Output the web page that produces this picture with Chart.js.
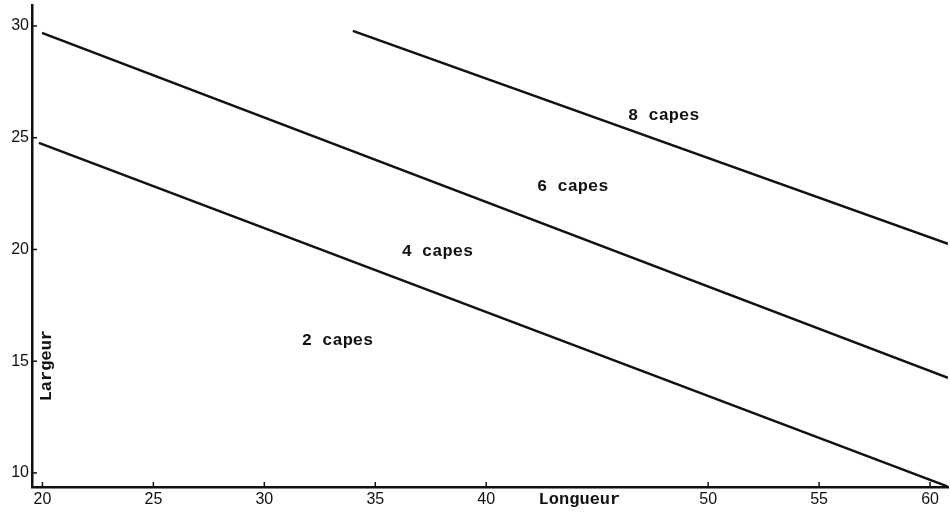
<!DOCTYPE html>
<html>
<head>
<meta charset="utf-8">
<script src="https://cdn.jsdelivr.net/npm/chart.js@4"></script>
<style>
  html, body { margin: 0; padding: 0; background: #fff; }
  #wrap { width: 950px; height: 516px; }
</style>
</head>
<body>
<div id="wrap"><canvas id="capesChart"></canvas></div>
<script>
// limites entre le nombre de capes (longueur, largeur)
const limite2a4 = [{ x: 19.84, y: 24.77 }, { x: 60.78, y: 9.4 }];
const limite4a6 = [{ x: 19.98, y: 29.69 }, { x: 60.81, y: 14.25 }];
const limite6a8 = [{ x: 33.99, y: 29.78 }, { x: 60.81, y: 20.25 }];

const zoneLabels = ["2 capes", "4 capes", "6 capes", "8 capes"];
const zoneX = [33.3, 37.8, 43.9, 48.0];
const zoneY = [15.9, 19.9, 22.8, 26.0];

const xTicks = [20, 25, 30, 35, 40, 45, 50, 55, 60];
const xTickLabels = ["20", "25", "30", "35", "40", "", "50", "55", "60"];
const yTicks = [10, 15, 20, 25, 30];

const labelFont = "bold 17px 'Liberation Mono'";

// petits traits de graduation vers l'intérieur + textes des zones et des axes
const annotations = {
    id: "annotations",
    afterDraw(chart) {
        const ctx = chart.ctx;
        const xs = chart.scales.x;
        const ys = chart.scales.y;
        const area = chart.chartArea;
        ctx.save();
        ctx.strokeStyle = "#111";
        ctx.lineWidth = 1.5;
        xTicks.forEach(function (v, i) {
            if (!xTickLabels[i]) return;
            const px = xs.getPixelForValue(v);
            ctx.beginPath();
            ctx.moveTo(px, area.bottom);
            ctx.lineTo(px, area.bottom - 5);
            ctx.stroke();
        });
        yTicks.forEach(function (v) {
            const py = ys.getPixelForValue(v);
            ctx.beginPath();
            ctx.moveTo(area.left, py);
            ctx.lineTo(area.left + 5, py);
            ctx.stroke();
        });

        ctx.fillStyle = "#111";
        ctx.font = labelFont;
        ctx.textAlign = "center";
        ctx.textBaseline = "middle";
        zoneLabels.forEach(function (txt, i) {
            ctx.fillText(txt, xs.getPixelForValue(zoneX[i]), ys.getPixelForValue(zoneY[i]));
        });

        ctx.fillText("Longueur", xs.getPixelForValue(44.2), area.bottom + 13);

        ctx.translate(area.left + 15, ys.getPixelForValue(14.8));
        ctx.rotate(-Math.PI / 2);
        ctx.fillText("Largeur", 0, 0);
        ctx.restore();
    }
};

function serie(points) {
    return {
        data: points,
        borderColor: "#111",
        borderWidth: 2.5,
        pointRadius: 0,
        fill: false,
        tension: 0
    };
}

new Chart(document.getElementById("capesChart"), {
    type: "line",
    data: {
        datasets: [serie(limite2a4), serie(limite4a6), serie(limite6a8)]
    },
    options: {
        responsive: true,
        maintainAspectRatio: false,
        animation: false,
        layout: { padding: { top: 5, right: 2, left: 0, bottom: 0 } },
        plugins: {
            legend: { display: false },
            tooltip: { enabled: false }
        },
        scales: {
            x: {
                type: "linear",
                min: 19.53,
                max: 60.81,
                afterBuildTicks: function (scale) {
                    scale.ticks = xTicks.map(function (v) { return { value: v }; });
                },
                afterFit: function (scale) {
                    scale.height = 29;
                    scale.paddingLeft = 0;
                    scale.paddingRight = 0;
                },
                ticks: {
                    autoSkip: false,
                    maxRotation: 0,
                    padding: 3,
                    color: "#111",
                    font: { family: "Liberation Sans", size: 16 },
                    callback: function (v, i) { return xTickLabels[i]; }
                },
                grid: { display: false, drawTicks: false },
                border: { display: true, color: "#111", width: 2.5 }
            },
            y: {
                type: "linear",
                min: 9.37,
                max: 30.94,
                afterBuildTicks: function (scale) {
                    scale.ticks = yTicks.map(function (v) { return { value: v }; });
                },
                afterFit: function (scale) {
                    scale.width = 32;
                    scale.paddingTop = 0;
                    scale.paddingBottom = 0;
                },
                ticks: {
                    autoSkip: false,
                    padding: 3,
                    color: "#111",
                    font: { family: "Liberation Sans", size: 16 }
                },
                grid: { display: false, drawTicks: false },
                border: { display: true, color: "#111", width: 2.5 }
            }
        }
    },
    plugins: [annotations]
});
</script>
</body>
</html>
